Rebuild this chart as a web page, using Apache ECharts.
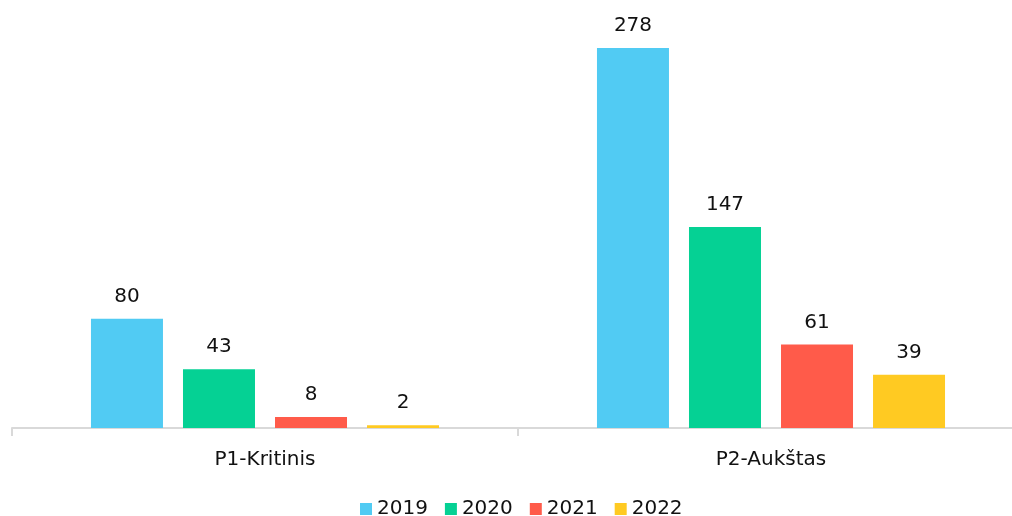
<!DOCTYPE html>
<html>
<head>
<meta charset="utf-8">
<script src="https://cdn.jsdelivr.net/npm/echarts@6/dist/echarts.min.js"></script>
<style>html,body{margin:0;padding:0;background:#fff}#c{width:1012px;height:516px}</style>
</head>
<body>
<div id="c"></div>
<script>
const categories = ['P1-Kritinis', 'P2-Aukštas'];
const seriesNames = ['2019', '2020', '2021', '2022'];
const values2019 = [80, 278];
const values2020 = [43, 147];
const values2021 = [8, 61];
const values2022 = [2, 39];
const colors = ['#51CBF3', '#05D194', '#FF5B4A', '#FFCA22'];

const allValues = [values2019, values2020, values2021, values2022];
const chart = echarts.init(document.getElementById('c'));
const font = '"DejaVu Sans", Verdana, sans-serif';
chart.setOption({
  animation: false,
  textStyle: { fontFamily: font },
  grid: { left: 12, right: -12, top: 48, bottom: 88, containLabel: false, outerBoundsMode: 'none' },
  legend: {
    data: seriesNames,
    top: 499,
    left: 360,
    padding: 0,
    itemWidth: 12,
    itemHeight: 12,
    itemGap: 17,
    icon: 'rect',
    textStyle: { fontSize: 20, color: '#111', fontFamily: font }
  },
  xAxis: {
    type: 'category',
    data: categories,
    axisLine: { lineStyle: { color: '#d9d9d9', width: 2 } },
    axisTick: { show: true, length: 8, lineStyle: { color: '#d9d9d9', width: 2 } },
    axisLabel: { fontSize: 20, color: '#111', margin: 22, fontFamily: font }
  },
  yAxis: { type: 'value', min: 0, max: 278, show: false, splitLine: { show: false } },
  series: seriesNames.map((n, i) => ({
    name: n,
    type: 'bar',
    data: allValues[i],
    barWidth: 72,
    barGap: '27.8%',
    itemStyle: { color: colors[i] },
    label: { show: true, position: 'top', distance: 12, fontSize: 20, color: '#111', fontFamily: font }
  }))
});
</script>
</body>
</html>
